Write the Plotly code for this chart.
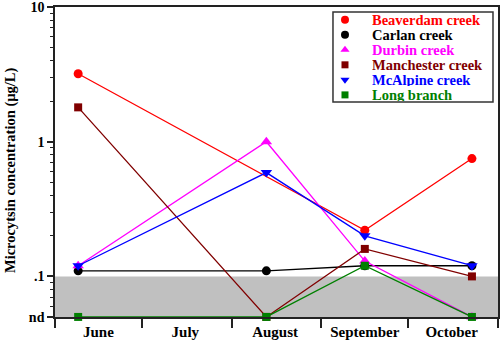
import plotly.graph_objects as go

# ---------------- data ----------------
ND = 0.05  # "not detected" plotted at this level
sample_dates = ["2008-06-09", "2008-08-13", "2008-09-16", "2008-10-23"]
month_names = ["June", "July", "August", "September", "October"]
month_starts = ["2008-06-01", "2008-07-01", "2008-08-01", "2008-09-01", "2008-10-01", "2008-11-01"]
month_mids = ["2008-06-16", "2008-07-16", "2008-08-16", "2008-09-16", "2008-10-16"]

series_names = ["Beaverdam creek", "Carlan creek", "Durbin creek",
                "Manchester creek", "McAlpine creek", "Long branch"]
beaverdam = [3.2, None, 0.22, 0.75]
carlan = [0.11, 0.11, 0.12, 0.12]
durbin = [0.12, 1.0, 0.13, ND]
manchester = [1.8, ND, 0.16, 0.10]
mcalpine = [0.12, 0.59, 0.20, 0.12]
long_branch = [ND, ND, 0.12, ND]
series_values = [beaverdam, carlan, durbin, manchester, mcalpine, long_branch]

detection_limit = 0.1
y_tick_vals = [ND, 0.1, 1, 10]
y_tick_text = ["nd", ".1", "1", "10"]
y_title = "Microcytsin concentration (µg/L)"

# ---------------- styles ----------------
colors = ["#ff0000", "#000000", "#ff00ff", "#800000", "#0000ff", "#008000"]
symbols = ["circle", "circle", "triangle-up", "square", "triangle-down", "square"]
sizes = [9, 9, 10, 8, 10, 8]
FONT = "Times New Roman, Liberation Serif, serif"

fig = go.Figure()

for name, vals, c, s, sz in zip(series_names, series_values, colors, symbols, sizes):
    fig.add_trace(go.Scatter(
        x=sample_dates, y=vals, name=name, mode="lines+markers",
        connectgaps=True, showlegend=False, cliponaxis=False,
        line=dict(color=c, width=1.3),
        marker=dict(color=c, symbol=s, size=sz),
    ))

# gray "below detection" band
fig.add_shape(type="rect", xref="paper", x0=0, x1=1, yref="y", y0=ND, y1=detection_limit,
              fillcolor="#c0c0c0", line=dict(width=0), layer="below")

# ---------------- manual legend ----------------
leg_x0, leg_x1, leg_y0, leg_y1 = 0.6275, 0.9887, 0.6935, 0.984
leg_top, leg_step = 0.959, 0.0485
leg_mx, leg_tx = 0.6546, 0.711
fig.add_shape(type="rect", xref="paper", yref="paper", x0=leg_x0, x1=leg_x1, y0=leg_y0, y1=leg_y1,
              line=dict(color="#333333", width=1.5), fillcolor="rgba(0,0,0,0)", layer="above")
for i, (name, c, s) in enumerate(zip(series_names, colors, symbols)):
    yy = leg_top - i * leg_step
    fig.add_trace(go.Scatter(
        x=[leg_mx], y=[yy], xaxis="x2", yaxis="y2", mode="markers", showlegend=False,
        cliponaxis=False, hoverinfo="skip",
        marker=dict(color=c, symbol=s, size=8 if s != "square" else 7),
    ))
    fig.add_annotation(x=leg_tx, y=yy, xref="paper", yref="paper", text=name, showarrow=False,
                       xanchor="left", yanchor="middle", height=13, valign="middle",
                       font=dict(family=FONT, size=14.5, color=c, weight="bold"))

# y-axis title
fig.add_annotation(x=-0.1016, y=0.474, xref="paper", yref="paper", text=y_title,
                   textangle=-90, showarrow=False, xanchor="center", yanchor="middle",
                   font=dict(family=FONT, size=14.5, color="black", weight="bold"))

fig.update_layout(
    width=500, height=344,
    margin=dict(l=55, r=2, t=7, b=27),
    paper_bgcolor="white", plot_bgcolor="white",
    showlegend=False,
    font=dict(family=FONT, size=14, color="black", weight="bold"),
    xaxis=dict(
        type="date", range=[month_starts[0], month_starts[-1]],
        tickmode="array", tickvals=month_mids, ticktext=month_names,
        ticks="outside", ticklen=0, showgrid=False, zeroline=False,
        showline=True, linecolor="#222222", linewidth=1.5, mirror=True,
        ticklabeloverflow="allow",
        tickfont=dict(family=FONT, size=15, color="black", weight="bold"),
        minor=dict(tickmode="array", tickvals=month_starts, ticks="outside",
                   ticklen=9, tickwidth=1.5, tickcolor="#222222", showgrid=False),
    ),
    yaxis=dict(
        type="log", range=[-1.3015, 1.0005],
        tickmode="array", tickvals=y_tick_vals, ticktext=y_tick_text,
        ticks="outside", ticklen=6, tickwidth=1.5, tickcolor="#222222",
        showgrid=False, zeroline=False,
        showline=True, linecolor="#222222", linewidth=1.5, mirror=True,
        ticklabeloverflow="allow",
        tickfont=dict(family=FONT, size=14, color="black", weight="bold"),
        minor=dict(tickmode="array",
                   tickvals=[0.06, 0.07, 0.08, 0.09, 0.2, 0.3, 0.4, 0.5, 0.6, 0.7, 0.8, 0.9,
                             2, 3, 4, 5, 6, 7, 8, 9],
                   ticks="outside", ticklen=3, tickwidth=1, tickcolor="#222222", showgrid=False),
        automargin=False,
    ),
    xaxis2=dict(overlaying="x", range=[0, 1], visible=False, fixedrange=True),
    yaxis2=dict(overlaying="y", range=[0, 1], visible=False, fixedrange=True),
)

fig.write_html("out.html")
